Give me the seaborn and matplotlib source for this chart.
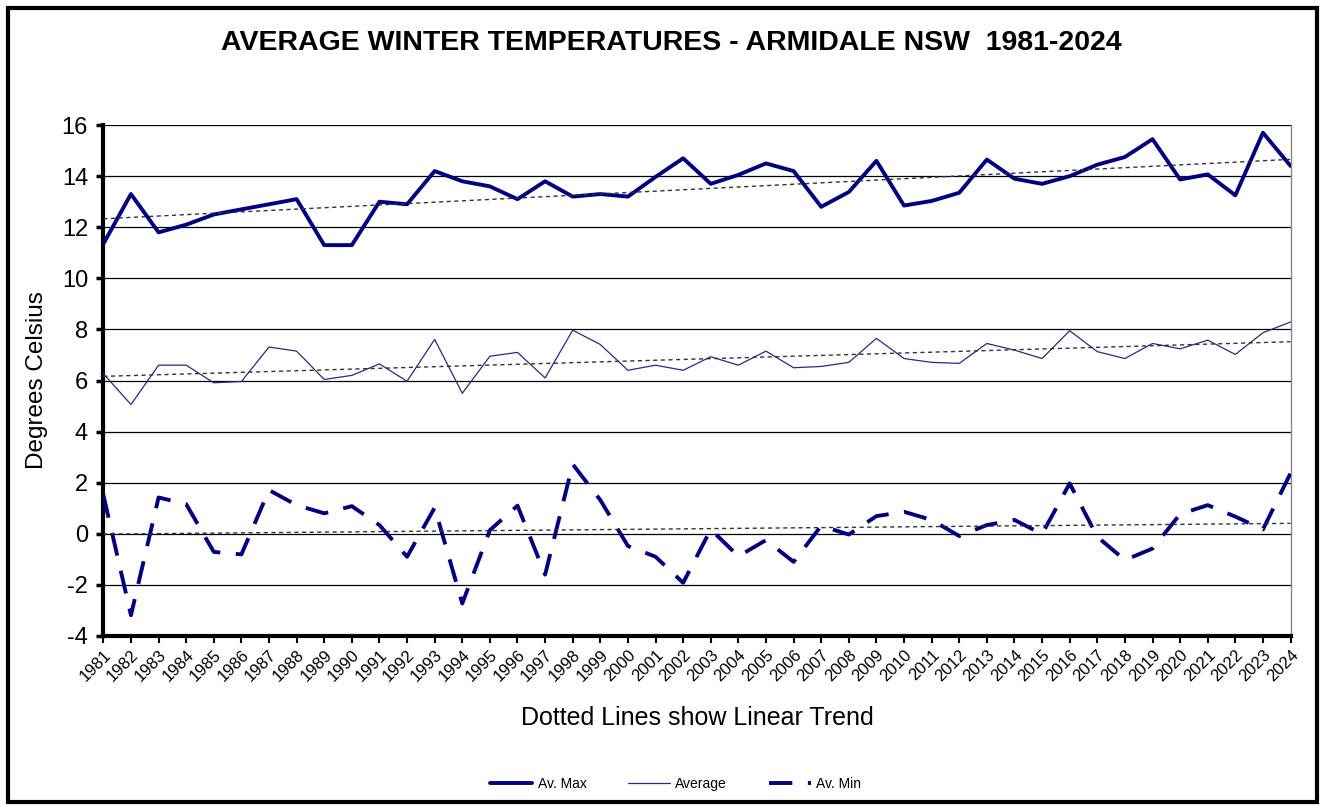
import numpy as np
import pandas as pd
import seaborn as sns
import matplotlib.pyplot as plt
from matplotlib.lines import Line2D
from matplotlib.patches import Rectangle

years = list(range(1981, 2025))

av_max = [11.35, 13.3, 11.8, 12.1, 12.5, 12.7, 12.9, 13.1, 11.3, 11.3,
          13.0, 12.9, 14.2, 13.8, 13.6, 13.1, 13.8, 13.2, 13.3, 13.2,
          13.97, 14.7, 13.7, 14.05, 14.5, 14.2, 12.8, 13.38, 14.6, 12.85,
          13.03, 13.35, 14.65, 13.9, 13.7, 14.0, 14.45, 14.75, 15.45, 13.87,
          14.07, 13.25, 15.7, 14.4]

average = [6.27, 5.06, 6.6, 6.6, 5.91, 5.96, 7.31, 7.15, 6.04, 6.2,
           6.65, 5.97, 7.61, 5.5, 6.95, 7.1, 6.1, 7.97, 7.41, 6.4,
           6.6, 6.4, 6.93, 6.6, 7.15, 6.5, 6.55, 6.71, 7.65, 6.86,
           6.71, 6.67, 7.45, 7.19, 6.86, 7.95, 7.13, 6.86, 7.45, 7.24,
           7.58, 7.02, 7.87, 8.29]

av_min = [1.52, -3.19, 1.42, 1.16, -0.71, -0.81, 1.71, 1.12, 0.8, 1.08,
          0.34, -0.9, 1.02, -2.73, 0.14, 1.1, -1.6, 2.72, 1.32, -0.48,
          -0.9, -1.92, 0.17, -0.88, -0.25, -1.1, 0.31, -0.03, 0.69, 0.86,
          0.54, -0.09, 0.34, 0.54, -0.01, 1.97, -0.12, -1.03, -0.58, 0.77,
          1.12, 0.67, 0.17, 2.37]

df = pd.DataFrame({"year": years, "max": av_max, "avg": average, "min": av_min})

sns.set_style("white")
plt.rcParams['font.family'] = ['Liberation Sans', 'DejaVu Sans']
plt.rcParams['axes.unicode_minus'] = False
plt.rcParams['text.color'] = 'black'
plt.rcParams['axes.labelcolor'] = 'black'
plt.rcParams['xtick.color'] = 'black'
plt.rcParams['ytick.color'] = 'black'

navy = '#000080'

fig, ax = plt.subplots(figsize=(13.25, 8.07), dpi=100)
fig.subplots_adjust(left=0.078, right=0.974, top=0.845, bottom=0.212)

# horizontal grid
for v in range(-4, 17, 2):
    ax.axhline(v, color='black', lw=0.9, zorder=0)

sns.lineplot(data=df, x="year", y="max", color=navy, lw=2.8, ax=ax, zorder=3)
sns.lineplot(data=df, x="year", y="avg", color='#2a2a80', lw=0.9, ax=ax, zorder=3)
sns.lineplot(data=df, x="year", y="min", color=navy, lw=2.8, ax=ax, zorder=3,
             dashes=False, linestyle=(0, (6, 4)))

# linear trends
x = np.array(years, dtype=float)
for col in ["max", "avg", "min"]:
    p = np.polyfit(x, df[col].values, 1)
    ax.plot(x, np.polyval(p, x), color='#333333', lw=1.0, ls=(0, (3, 2.5)), zorder=4)

ax.set_xlim(1981, 2024)
ax.set_ylim(-4, 16)
ax.set_yticks(range(-4, 17, 2))
ax.set_xticks(years)
ax.set_xticklabels([str(y) for y in years], rotation=45, ha='right',
                   rotation_mode='anchor', fontsize=12)
ax.tick_params(axis='y', labelsize=17, direction='out', length=5, width=2.5, left=True, pad=6)
ax.tick_params(axis='x', direction='out', length=5, width=1.5, bottom=True, pad=3)

for s in ['left', 'bottom']:
    ax.spines[s].set_linewidth(3)
    ax.spines[s].set_color('black')
ax.spines['top'].set_visible(False)
ax.spines['right'].set_linewidth(1)
ax.spines['right'].set_color('#888888')

ax.set_xlabel('Dotted Lines show Linear Trend', fontsize=18, labelpad=16)
ax.set_ylabel('Degrees Celsius', fontsize=17.5, labelpad=10)
fig.suptitle('AVERAGE WINTER TEMPERATURES - ARMIDALE NSW  1981-2024',
             fontsize=20.5, fontweight='bold', x=0.507, y=0.963)

handles = [Line2D([0], [0], color=navy, lw=2.8),
           Line2D([0], [0], color='#2a2a80', lw=0.9),
           Line2D([0], [0], color=navy, lw=2.8, ls=(0, (6, 4)))]
fig.legend(handles=handles, labels=['Av. Max', 'Average', 'Av. Min'],
           loc='center', bbox_to_anchor=(0.51, 0.029), ncol=3, frameon=False,
           fontsize=10, handlelength=3.0, handletextpad=0.4, columnspacing=3.0)

fig.patches.append(Rectangle((0.006, 0.006), 0.988, 0.984, transform=fig.transFigure,
                             fill=False, edgecolor='black', lw=3))

fig.savefig('out.png', dpi=100)
